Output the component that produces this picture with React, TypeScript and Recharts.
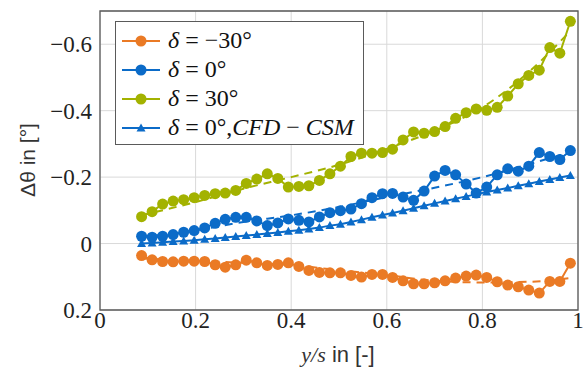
import { CartesianGrid, Line, LineChart, ReferenceArea, XAxis, YAxis } from "recharts";

// spanwise stations y/s
const span = [
  0.087, 0.109, 0.131, 0.153, 0.175, 0.197, 0.219, 0.241, 0.262, 0.284, 0.306, 0.328, 0.35, 0.372,
  0.394, 0.416, 0.437, 0.459, 0.481, 0.503, 0.525, 0.547, 0.569, 0.591, 0.612, 0.634, 0.656, 0.678,
  0.7, 0.722, 0.744, 0.766, 0.787, 0.809, 0.831, 0.853, 0.875, 0.897, 0.919, 0.941, 0.962, 0.984
];

const deltaMinus30 = [
  0.036, 0.049, 0.054, 0.055, 0.053, 0.053, 0.054, 0.064, 0.071, 0.064, 0.05, 0.058, 0.066, 0.063,
  0.058, 0.069, 0.081, 0.087, 0.088, 0.088, 0.096, 0.101, 0.093, 0.093, 0.102, 0.112, 0.121, 0.121,
  0.118, 0.112, 0.104, 0.098, 0.095, 0.102, 0.115, 0.125, 0.13, 0.14, 0.149, 0.114, 0.114, 0.059
];

const delta0 = [
  -0.022, -0.019, -0.022, -0.027, -0.034, -0.039, -0.047, -0.061, -0.073, -0.079, -0.079, -0.068,
  -0.054, -0.062, -0.074, -0.07, -0.065, -0.08, -0.093, -0.099, -0.104, -0.12, -0.138, -0.15, -0.151,
  -0.14, -0.13, -0.158, -0.203, -0.22, -0.207, -0.179, -0.152, -0.17, -0.207, -0.225, -0.218, -0.233,
  -0.274, -0.262, -0.253, -0.28
];

const delta30 = [
  -0.081, -0.096, -0.119, -0.128, -0.132, -0.138, -0.145, -0.15, -0.152, -0.16, -0.181, -0.194, -0.21,
  -0.196, -0.17, -0.172, -0.174, -0.19, -0.21, -0.233, -0.262, -0.272, -0.272, -0.274, -0.284, -0.312,
  -0.336, -0.332, -0.337, -0.352, -0.377, -0.394, -0.405, -0.401, -0.41, -0.444, -0.481, -0.506, -0.522,
  -0.59, -0.573, -0.669
];

const delta0Cfd = [
  0.0, -0.002, -0.004, -0.006, -0.008, -0.01, -0.013, -0.015, -0.018, -0.021, -0.024, -0.027, -0.03,
  -0.033, -0.037, -0.04, -0.044, -0.048, -0.054, -0.058, -0.065, -0.072, -0.079, -0.086, -0.092, -0.099,
  -0.106, -0.114, -0.121, -0.128, -0.135, -0.142, -0.148, -0.155, -0.161, -0.167, -0.174, -0.18, -0.187,
  -0.193, -0.199, -0.205
];

// dashed fit curves
const fitX = [0.087, 0.2, 0.3, 0.4, 0.5, 0.6, 0.7, 0.8, 0.9, 0.984];
const fitMinus30 = [0.045, 0.052, 0.058, 0.065, 0.08, 0.095, 0.112, 0.117, 0.115, 0.104];
const fit0 = [-0.02, -0.04, -0.065, -0.085, -0.11, -0.14, -0.168, -0.2, -0.24, -0.275];
const fit30 = [-0.085, -0.125, -0.165, -0.2, -0.237, -0.285, -0.34, -0.41, -0.52, -0.64];

const xTicks = [0, 0.2, 0.4, 0.6, 0.8, 1];
const yTicks = [-0.6, -0.4, -0.2, 0, 0.2];

const orange = "#ea7a25";
const blue = "#0b6bc8";
const green = "#a3b200";
const serif = "Liberation Serif, Times New Roman, DejaVu Serif, serif";
const sans = "Liberation Sans, Arial, sans-serif";

const measured = span.map((x, i) => ({
  x,
  m30: deltaMinus30[i],
  d0: delta0[i],
  d30: delta30[i],
  cfd: delta0Cfd[i]
}));

const fits = fitX.map((x, i) => ({ x, m30: fitMinus30[i], d0: fit0[i], d30: fit30[i] }));

const fmt = (v: number) => (v < 0 ? `\u2212${Math.abs(v)}` : `${v}`);

const XTick = (props: any) => {
  const { x, y, payload } = props;
  return (
    <text x={x} y={y + 18} textAnchor="middle" style={{ fontFamily: serif }} fontSize={23} fill="#222">
      {fmt(payload.value)}
    </text>
  );
};

const YTick = (props: any) => {
  const { x, y, payload } = props;
  return (
    <text x={x} y={y + 8} textAnchor="end" style={{ fontFamily: serif }} fontSize={23} fill="#222">
      {fmt(payload.value)}
    </text>
  );
};

const Triangle = (props: any) => {
  const { cx, cy, index } = props;
  if (cx == null || cy == null) return <g key={index} />;
  return <path key={index} d={`M${cx},${cy - 4.5}L${cx + 4.5},${cy + 3.5}L${cx - 4.5},${cy + 3.5}Z`} fill={blue} />;
};

function LegendIcon({ color, marker }: { color: string; marker: "dot" | "tri" }) {
  return (
    <svg width={38} height={14} style={{ display: "block" }}>
      <line x1={0} y1={7} x2={38} y2={7} stroke={color} strokeWidth={2} />
      {marker === "dot" ? <circle cx={19} cy={7} r={5.5} fill={color} /> : <path d="M19,2.5L23.5,10.5L14.5,10.5Z" fill={color} />}
    </svg>
  );
}

const legendRows = [
  { color: orange, marker: "dot" as const, label: <><i>δ</i> = −30°</> },
  { color: blue, marker: "dot" as const, label: <><i>δ</i> = 0°</> },
  { color: green, marker: "dot" as const, label: <><i>δ</i> = 30°</> },
  { color: blue, marker: "tri" as const, label: <><i>δ</i> = 0°,<i>CFD</i> − <i>CSM</i></> }
];

export default function App() {
  return (
    <div style={{ position: "absolute", left: 0, top: 0, width: 584, height: 374, background: "#fff" }}>
      <LineChart width={584} height={374} margin={{ top: 11, right: 6, bottom: 0, left: 0 }}>
        <CartesianGrid stroke="#d9d9d9" strokeWidth={1} />
        <XAxis
          dataKey="x"
          type="number"
          domain={[0, 1]}
          ticks={xTicks}
          height={64}
          axisLine={false}
          tickLine={false}
          tickSize={0}
          tickMargin={0}
          tick={<XTick />}
          label={{
            content: () => (
              <text x={338} y={362} textAnchor="middle" fontSize={22} fill="#333">
                <tspan style={{ fontFamily: serif, fontStyle: "italic" }}>y/s</tspan>
                <tspan style={{ fontFamily: sans }}> in [-]</tspan>
              </text>
            )
          }}
        />
        <YAxis
          type="number"
          domain={[-0.7, 0.2]}
          reversed
          ticks={yTicks}
          width={100}
          axisLine={false}
          tickLine={false}
          tickSize={0}
          tickMargin={8}
          tick={<YTick />}
          label={{
            content: () => (
              <text x={27} y={160} transform="rotate(-90 27 160)" textAnchor="middle" dominantBaseline="central" fontSize={21} style={{ fontFamily: sans }} fill="#333">
                Δθ in [°]
              </text>
            )
          }}
        />
        <ReferenceArea x1={0} x2={1} y1={-0.7} y2={0.2} fill="none" stroke="#5a5a5a" strokeWidth={1.3} />

        <Line data={fits} dataKey="m30" type="monotone" stroke={orange} strokeWidth={2} strokeDasharray="8 6" dot={false} isAnimationActive={false} />
        <Line data={fits} dataKey="d0" type="monotone" stroke={blue} strokeWidth={2} strokeDasharray="8 6" dot={false} isAnimationActive={false} />
        <Line data={fits} dataKey="d30" type="monotone" stroke={green} strokeWidth={2} strokeDasharray="8 6" dot={false} isAnimationActive={false} />

        <Line data={measured} dataKey="cfd" type="linear" stroke={blue} strokeWidth={2} dot={Triangle} isAnimationActive={false} />
        <Line data={measured} dataKey="m30" type="linear" stroke={orange} strokeWidth={2} dot={{ r: 5.5, fill: orange, stroke: orange, strokeWidth: 0 }} isAnimationActive={false} />
        <Line data={measured} dataKey="d0" type="linear" stroke={blue} strokeWidth={2} dot={{ r: 5.5, fill: blue, stroke: blue, strokeWidth: 0 }} isAnimationActive={false} />
        <Line data={measured} dataKey="d30" type="linear" stroke={green} strokeWidth={2} dot={{ r: 5.5, fill: green, stroke: green, strokeWidth: 0 }} isAnimationActive={false} />
      </LineChart>

      <div
        style={{
          position: "absolute",
          left: 115,
          top: 21,
          width: 249,
          height: 124,
          border: "1.3px solid #5a5a5a",
          background: "#fff",
          boxSizing: "border-box"
        }}
      >
        {legendRows.map((row, i) => (
          <div
            key={i}
            style={{ position: "absolute", left: 6, top: 4 + i * 29, height: 29, display: "flex", alignItems: "center", whiteSpace: "nowrap" }}
          >
            <LegendIcon color={row.color} marker={row.marker} />
            <span style={{ marginLeft: 8, fontFamily: serif, fontSize: 24, color: "#111", lineHeight: "29px" }}>{row.label}</span>
          </div>
        ))}
      </div>
    </div>
  );
}
